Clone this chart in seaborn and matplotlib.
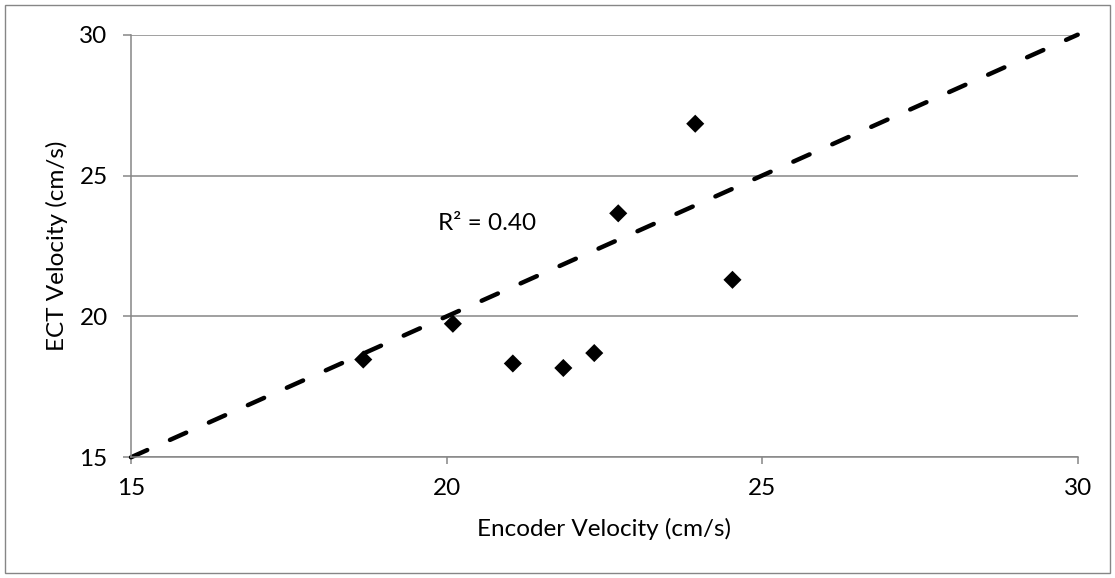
import matplotlib
matplotlib.use("Agg")
import matplotlib.pyplot as plt
from matplotlib.patches import Rectangle
import seaborn as sns
import pandas as pd

# ---- data ----
encoder_velocity = [18.68, 20.10, 21.05, 21.85, 22.34, 22.72, 23.94, 24.53]
ect_velocity = [18.47, 19.74, 18.33, 18.17, 18.70, 23.66, 26.84, 21.30]
trend_x = [15, 30]
trend_y = [15, 30]
x_ticks = [15, 20, 25, 30]
y_ticks = [15, 20, 25, 30]
r2_label = "R² = 0.40"
r2_pos = (19.86, 23.31)
x_title = "Encoder Velocity (cm/s)"
y_title = "ECT Velocity (cm/s)"

df = pd.DataFrame({"enc": encoder_velocity, "ect": ect_velocity})
trend = pd.DataFrame({"x": trend_x, "y": trend_y})

sns.set_theme(style="white")
plt.rcParams["font.family"] = ["Lato", "DejaVu Sans"]
FS = 17.5
GRAY = "#868686"

W, H = 1115, 578
fig = plt.figure(figsize=(W / 100, H / 100), dpi=100)
left, right, top, bottom = 131, 1077.7, 34.7, 457.3
aw, ah = right - left, bottom - top
ax = fig.add_axes([left / W, 1 - bottom / H, aw / W, ah / H])

# trend line
sns.lineplot(data=trend, x="x", y="y", ax=ax, color="black", linewidth=3.2, zorder=2)
ln = ax.lines[-1]
ln.set_dashes([4, 5.6])
ln.set_dash_capstyle("round")
ln.set_clip_on(False)

# points
sns.scatterplot(data=df, x="enc", y="ect", ax=ax, marker="D", s=85, color="black",
                edgecolor="none", linewidth=0, zorder=3)

ax.set_xlim(15, 30)
ax.set_ylim(15, 30)
ax.set_xticks(x_ticks)
ax.set_yticks(y_ticks)
ax.grid(axis="y", color=GRAY, linewidth=1.1)
ax.grid(axis="x", visible=False)
ax.set_axisbelow(True)

for side in ["top", "right"]:
    ax.spines[side].set_visible(False)
for side in ["left", "bottom"]:
    ax.spines[side].set_color(GRAY)
    ax.spines[side].set_linewidth(1.1)

ax.tick_params(axis="x", direction="out", length=5, width=1.1, color=GRAY,
               pad=10, labelsize=FS, labelcolor="black", bottom=True)
ax.tick_params(axis="y", direction="out", length=5.8, width=1.1, color=GRAY,
               pad=11, labelsize=FS, labelcolor="black", left=True)

ax.set_xlabel(x_title, fontsize=FS, color="black")
ax.set_ylabel(y_title, fontsize=FS, color="black")
ax.xaxis.set_label_coords(0.5, -(518 - bottom) / ah)
ax.yaxis.set_label_coords(-(left - 68) / aw, 0.5)

ax.text(r2_pos[0], r2_pos[1], r2_label, ha="left", va="center", fontsize=FS, color="black")

# outer chart border
fig.patches.append(Rectangle((5 / W, 5 / H), (W - 10) / W, (H - 10) / H,
                             transform=fig.transFigure, fill=False,
                             edgecolor=GRAY, linewidth=1.0))

fig.savefig("out.png", dpi=100, facecolor="white")
